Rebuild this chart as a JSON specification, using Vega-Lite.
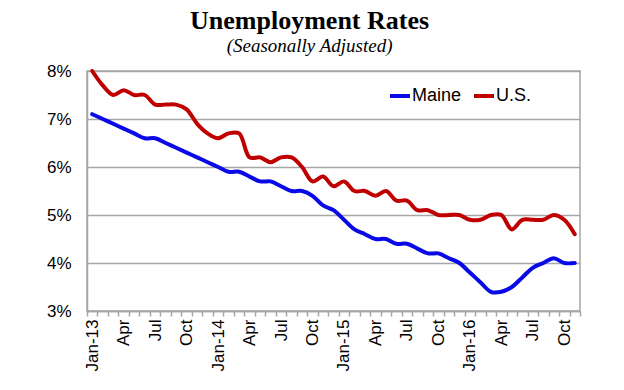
{
  "$schema": "https://vega.github.io/schema/vega-lite/v6.json",
  "autosize": "none",
  "width": 493,
  "height": 240,
  "padding": {"left": 87, "top": 71, "right": 44, "bottom": 79},
  "background": "white",
  "config": {
    "view": {"stroke": "#a6a6a6", "strokeWidth": 1.5},
    "axis": {"labelFont": "Liberation Sans", "labelColor": "#000000"}
  },
  "title": {
    "text": "Unemployment Rates",
    "subtitle": "(Seasonally Adjusted)",
    "anchor": "middle",
    "frame": "bounds",
    "dx": -5,
    "font": "Liberation Serif",
    "fontSize": 26,
    "fontWeight": "bold",
    "color": "#000000",
    "subtitleFont": "Liberation Serif",
    "subtitleFontSize": 19,
    "subtitleFontStyle": "italic",
    "subtitleColor": "#000000",
    "subtitlePadding": 3,
    "offset": 6
  },
  "datasets": {
    "rates": [
      {"m": "2013-01", "series": "Maine", "rate": 7.1}, {"m": "2013-01", "series": "U.S.", "rate": 8.0},
      {"m": "2013-02", "series": "Maine", "rate": 7.0}, {"m": "2013-02", "series": "U.S.", "rate": 7.7},
      {"m": "2013-03", "series": "Maine", "rate": 6.9}, {"m": "2013-03", "series": "U.S.", "rate": 7.5},
      {"m": "2013-04", "series": "Maine", "rate": 6.8}, {"m": "2013-04", "series": "U.S.", "rate": 7.6},
      {"m": "2013-05", "series": "Maine", "rate": 6.7}, {"m": "2013-05", "series": "U.S.", "rate": 7.5},
      {"m": "2013-06", "series": "Maine", "rate": 6.6}, {"m": "2013-06", "series": "U.S.", "rate": 7.5},
      {"m": "2013-07", "series": "Maine", "rate": 6.6}, {"m": "2013-07", "series": "U.S.", "rate": 7.3},
      {"m": "2013-08", "series": "Maine", "rate": 6.5}, {"m": "2013-08", "series": "U.S.", "rate": 7.3},
      {"m": "2013-09", "series": "Maine", "rate": 6.4}, {"m": "2013-09", "series": "U.S.", "rate": 7.3},
      {"m": "2013-10", "series": "Maine", "rate": 6.3}, {"m": "2013-10", "series": "U.S.", "rate": 7.2},
      {"m": "2013-11", "series": "Maine", "rate": 6.2}, {"m": "2013-11", "series": "U.S.", "rate": 6.9},
      {"m": "2013-12", "series": "Maine", "rate": 6.1}, {"m": "2013-12", "series": "U.S.", "rate": 6.7},
      {"m": "2014-01", "series": "Maine", "rate": 6.0}, {"m": "2014-01", "series": "U.S.", "rate": 6.6},
      {"m": "2014-02", "series": "Maine", "rate": 5.9}, {"m": "2014-02", "series": "U.S.", "rate": 6.7},
      {"m": "2014-03", "series": "Maine", "rate": 5.9}, {"m": "2014-03", "series": "U.S.", "rate": 6.7},
      {"m": "2014-04", "series": "Maine", "rate": 5.8}, {"m": "2014-04", "series": "U.S.", "rate": 6.2},
      {"m": "2014-05", "series": "Maine", "rate": 5.7}, {"m": "2014-05", "series": "U.S.", "rate": 6.2},
      {"m": "2014-06", "series": "Maine", "rate": 5.7}, {"m": "2014-06", "series": "U.S.", "rate": 6.1},
      {"m": "2014-07", "series": "Maine", "rate": 5.6}, {"m": "2014-07", "series": "U.S.", "rate": 6.2},
      {"m": "2014-08", "series": "Maine", "rate": 5.5}, {"m": "2014-08", "series": "U.S.", "rate": 6.2},
      {"m": "2014-09", "series": "Maine", "rate": 5.5}, {"m": "2014-09", "series": "U.S.", "rate": 6.0},
      {"m": "2014-10", "series": "Maine", "rate": 5.4}, {"m": "2014-10", "series": "U.S.", "rate": 5.7},
      {"m": "2014-11", "series": "Maine", "rate": 5.2}, {"m": "2014-11", "series": "U.S.", "rate": 5.8},
      {"m": "2014-12", "series": "Maine", "rate": 5.1}, {"m": "2014-12", "series": "U.S.", "rate": 5.6},
      {"m": "2015-01", "series": "Maine", "rate": 4.9}, {"m": "2015-01", "series": "U.S.", "rate": 5.7},
      {"m": "2015-02", "series": "Maine", "rate": 4.7}, {"m": "2015-02", "series": "U.S.", "rate": 5.5},
      {"m": "2015-03", "series": "Maine", "rate": 4.6}, {"m": "2015-03", "series": "U.S.", "rate": 5.5},
      {"m": "2015-04", "series": "Maine", "rate": 4.5}, {"m": "2015-04", "series": "U.S.", "rate": 5.4},
      {"m": "2015-05", "series": "Maine", "rate": 4.5}, {"m": "2015-05", "series": "U.S.", "rate": 5.5},
      {"m": "2015-06", "series": "Maine", "rate": 4.4}, {"m": "2015-06", "series": "U.S.", "rate": 5.3},
      {"m": "2015-07", "series": "Maine", "rate": 4.4}, {"m": "2015-07", "series": "U.S.", "rate": 5.3},
      {"m": "2015-08", "series": "Maine", "rate": 4.3}, {"m": "2015-08", "series": "U.S.", "rate": 5.1},
      {"m": "2015-09", "series": "Maine", "rate": 4.2}, {"m": "2015-09", "series": "U.S.", "rate": 5.1},
      {"m": "2015-10", "series": "Maine", "rate": 4.2}, {"m": "2015-10", "series": "U.S.", "rate": 5.0},
      {"m": "2015-11", "series": "Maine", "rate": 4.1}, {"m": "2015-11", "series": "U.S.", "rate": 5.0},
      {"m": "2015-12", "series": "Maine", "rate": 4.0}, {"m": "2015-12", "series": "U.S.", "rate": 5.0},
      {"m": "2016-01", "series": "Maine", "rate": 3.8}, {"m": "2016-01", "series": "U.S.", "rate": 4.9},
      {"m": "2016-02", "series": "Maine", "rate": 3.6}, {"m": "2016-02", "series": "U.S.", "rate": 4.9},
      {"m": "2016-03", "series": "Maine", "rate": 3.4}, {"m": "2016-03", "series": "U.S.", "rate": 5.0},
      {"m": "2016-04", "series": "Maine", "rate": 3.4}, {"m": "2016-04", "series": "U.S.", "rate": 5.0},
      {"m": "2016-05", "series": "Maine", "rate": 3.5}, {"m": "2016-05", "series": "U.S.", "rate": 4.7},
      {"m": "2016-06", "series": "Maine", "rate": 3.7}, {"m": "2016-06", "series": "U.S.", "rate": 4.9},
      {"m": "2016-07", "series": "Maine", "rate": 3.9}, {"m": "2016-07", "series": "U.S.", "rate": 4.9},
      {"m": "2016-08", "series": "Maine", "rate": 4.0}, {"m": "2016-08", "series": "U.S.", "rate": 4.9},
      {"m": "2016-09", "series": "Maine", "rate": 4.1}, {"m": "2016-09", "series": "U.S.", "rate": 5.0},
      {"m": "2016-10", "series": "Maine", "rate": 4.0}, {"m": "2016-10", "series": "U.S.", "rate": 4.9},
      {"m": "2016-11", "series": "Maine", "rate": 4.0}, {"m": "2016-11", "series": "U.S.", "rate": 4.6}
    ]
  },
  "data": {"name": "rates"},
  "mark": {"type": "line", "strokeWidth": 4, "interpolate": "catmull-rom", "strokeCap": "round", "strokeJoin": "round"},
  "encoding": {
    "x": {
      "field": "m",
      "type": "ordinal",
      "bandPosition": 0.5,
      "scale": {"type": "band", "paddingInner": 0, "paddingOuter": 0},
      "axis": {
        "title": null,
        "tickBand": "extent",
        "labelAngle": -90,
        "labelFontSize": 17,
        "labelPadding": 3,
        "labelOverlap": false,
        "labelBound": false,
        "tickSize": 5,
        "tickColor": "#a6a6a6",
        "tickWidth": 1.5,
        "domainColor": "#a6a6a6",
        "domainWidth": 1.5,
        "grid": false,
        "labelExpr": "substring(datum.value,5,7)=='01' ? 'Jan-' + substring(datum.value,2,4) : substring(datum.value,5,7)=='04' ? 'Apr' : substring(datum.value,5,7)=='07' ? 'Jul' : substring(datum.value,5,7)=='10' ? 'Oct' : ''"
      }
    },
    "y": {
      "field": "rate",
      "type": "quantitative",
      "scale": {"domain": [3, 8], "nice": false, "zero": false},
      "axis": {
        "title": null,
        "values": [3, 4, 5, 6, 7, 8],
        "labelExpr": "datum.value + '%'",
        "labelFontSize": 17,
        "labelPadding": 16,
        "ticks": false,
        "grid": true,
        "gridColor": "#a6a6a6",
        "gridWidth": 1.5,
        "domainColor": "#a6a6a6",
        "domainWidth": 1.5
      }
    },
    "color": {
      "field": "series",
      "type": "nominal",
      "scale": {"domain": ["Maine", "U.S."], "range": ["#0a0ae6", "#c00000"]},
      "legend": {
        "title": null,
        "orient": "none",
        "direction": "horizontal",
        "legendX": 301,
        "legendY": 13,
        "symbolType": "stroke",
        "symbolSize": 400,
        "symbolStrokeWidth": 4,
        "labelFont": "Liberation Sans",
        "labelFontSize": 18,
        "labelColor": "#000000",
        "labelOffset": 0,
        "columnPadding": 4
      }
    }
  }
}
